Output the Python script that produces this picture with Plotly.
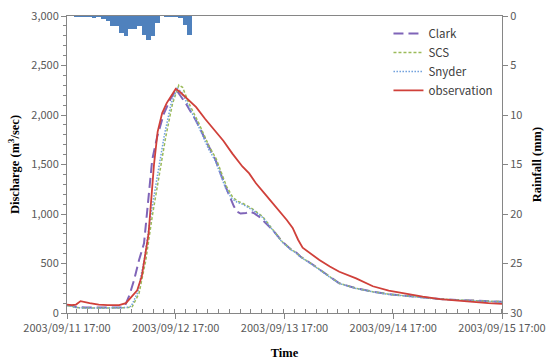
import pandas as pd
import plotly.graph_objects as go

BASE = pd.Timestamp("2003-09-11 17:00")

# Rainfall (hourly, mm), hour offsets from 2003/09/11 17:00
rain_hours = [2, 3, 4, 5, 6, 7, 8, 9, 10, 11, 12, 13, 14, 15, 16, 17, 18, 19, 20, 21, 22, 23, 24, 25, 26, 27]
rain_mm = [0.1, 0.1, 0.1, 0.1, 0.2, 0.1, 0.3, 0.5, 1.0, 1.0, 1.7, 2.0, 1.3, 1.3, 1.0, 1.9, 2.4, 2.0, 0.7, 0.0, 0.1, 0.1, 0.1, 0.2, 0.9, 1.9]

# Observation
obs_hours = [0, 1, 2, 3, 5, 7, 9, 11.5, 13, 14, 15.5, 16.5, 17.3, 18, 18.6, 19.2, 20, 21, 22, 23, 24, 25, 26, 27,
             28.5, 30.5, 32.5, 34.5, 36.5, 38.7, 40.2, 41.7, 43.9, 45, 46.8, 48.5, 49.8, 51, 52, 54, 55.7, 58,
             60.1, 63.8, 67.5, 71, 74.9, 78.5, 82.3, 86, 89.6, 93, 96]
obs_q = [85, 80, 85, 120, 100, 85, 80, 80, 100, 150, 230, 370, 580, 800, 1150, 1500, 1830, 2020, 2120, 2200, 2265, 2230, 2185, 2140,
         2080, 1960, 1850, 1740, 1610, 1480, 1410, 1310, 1190, 1130, 1040, 940, 860, 740, 660, 590, 535, 470,
         417, 350, 270, 225, 192, 165, 141, 125, 114, 100, 92]

# Clark
clark_hours = [0, 1, 2, 4, 8, 12, 12.7, 13.8, 14.8, 15.9, 17, 17.4, 18.1, 18.8, 19.9, 21.4, 22.9, 24.1, 26.2, 28.4, 30.6,
               32.8, 34.7, 35.8, 36.8, 37.5, 38.3, 39.5, 40.3, 41.2, 42.4, 45.4, 47.5, 49.5, 50.6, 51.5, 54.2, 57.9,
               60.1, 63.8, 67.5, 71, 74.9, 78.5, 82.3, 86, 89.6, 93, 96]
clark_q = [80, 75, 60, 55, 55, 55, 64, 182, 333, 535, 704, 900, 1209, 1545, 1781, 2017, 2168, 2255, 2118, 1950, 1747,
           1545, 1310, 1190, 1080, 1025, 1005, 1010, 1025, 1010, 973, 838, 720, 640, 610, 570, 490, 370,
           300, 250, 215, 190, 172, 155, 141, 132, 124, 118, 114]

# SCS
scs_hours = [0, 1, 2, 4, 8, 12, 13.5, 14.4, 15.9, 17.4, 18.8, 20.3, 21.8, 23.3, 24.7, 25.5, 26.9, 29.1, 31.4, 32.9,
             34.0, 35.2, 36.5, 37.6, 38.7, 39.8, 41.0, 43.2, 45.4, 47.5, 49.5, 50.6, 51.5, 54.2, 57.9,
             60.1, 63.8, 67.5, 71, 74.9, 78.5, 82.3, 86, 89.6, 93, 96]
scs_q = [75, 70, 55, 50, 50, 50, 55, 64, 199, 535, 973, 1377, 1781, 2118, 2303, 2280, 2118, 1916, 1680, 1560,
         1430, 1280, 1175, 1130, 1110, 1085, 1050, 973, 838, 720, 640, 610, 570, 490, 370,
         300, 250, 215, 190, 172, 155, 141, 132, 124, 118, 114]

# Snyder
snyder_hours = [0, 1, 2, 4, 8, 12, 13.2, 14.2, 15.6, 17.1, 18.5, 20.0, 21.5, 23.0, 24.3, 25.3, 26.7, 28.9, 31.2, 32.7,
                33.8, 35.0, 36.3, 37.5, 38.7, 39.8, 41.0, 43.2, 45.4, 47.5, 49.5, 50.6, 51.5, 54.2, 57.9,
                60.1, 63.8, 67.5, 71, 74.9, 78.5, 82.3, 86, 89.6, 93, 96]
snyder_q = [75, 70, 55, 50, 50, 50, 55, 70, 210, 550, 990, 1400, 1800, 2120, 2270, 2230, 2100, 1900, 1660, 1540,
            1410, 1260, 1160, 1120, 1100, 1075, 1040, 965, 835, 715, 636, 605, 566, 486, 366,
            298, 248, 213, 188, 170, 153, 139, 130, 122, 116, 112]

x_ticks = ["2003-09-11 17:00", "2003-09-12 17:00", "2003-09-13 17:00", "2003-09-14 17:00", "2003-09-15 17:00"]
x_tick_text = ["2003/09/11 17:00", "2003/09/12 17:00", "2003/09/13 17:00", "2003/09/14 17:00", "2003/09/15 17:00"]


def to_time(hours):
    return BASE + pd.to_timedelta(hours, unit="h")


fig = go.Figure()

fig.add_trace(go.Bar(x=to_time(rain_hours), y=rain_mm, yaxis="y2", name="Rainfall",
                     marker=dict(color="#4F81BD", line=dict(width=0)), width=3600000,
                     showlegend=False))

fig.add_trace(go.Scatter(x=to_time(clark_hours), y=clark_q, mode="lines", name="Clark",
                         line=dict(color="#7F64B8", width=2, dash="10px,5px")))
fig.add_trace(go.Scatter(x=to_time(scs_hours), y=scs_q, mode="lines", name="SCS",
                         line=dict(color="#9BBB59", width=1.5, dash="3px,2px")))
fig.add_trace(go.Scatter(x=to_time(snyder_hours), y=snyder_q, mode="lines", name="Snyder",
                         line=dict(color="#6E9FDC", width=1.5, dash="1.5px,1.5px")))
fig.add_trace(go.Scatter(x=to_time(obs_hours), y=obs_q, mode="lines", name="observation",
                         line=dict(color="#D0403A", width=1.8)))

tick_font = dict(family="Noto Sans CJK KR, Noto Sans, sans-serif", size=11, color="#595959")
title_font = dict(family="Liberation Serif, serif", size=12.5, color="#000000")

fig.update_layout(
    width=548, height=361,
    margin=dict(l=67, r=46, t=16, b=48, autoexpand=False),
    paper_bgcolor="white", plot_bgcolor="white",
    bargap=0,
    xaxis=dict(
        type="date", automargin=False,
        range=[x_ticks[0], x_ticks[-1]],
        tickvals=x_ticks, ticktext=x_tick_text,
        ticks="outside", ticklen=5, tickcolor="#868686",
        showline=True, linecolor="#868686", linewidth=1, mirror=True,
        showgrid=False, zeroline=False,
        tickfont=tick_font,
        minor=dict(dtick=8640000, ticks="inside", ticklen=4, tickcolor="#868686", showgrid=False),
        title=dict(text="<b>Time</b>", font=title_font, standoff=14),
    ),
    yaxis=dict(
        automargin=False,
        range=[0, 3000], dtick=500, tickformat=",d",
        ticks="outside", ticklen=5, tickcolor="#868686",
        showline=True, linecolor="#868686", linewidth=1,
        showgrid=False, zeroline=False,
        tickfont=tick_font,
        minor=dict(dtick=100, ticks="outside", ticklen=3, tickcolor="#868686", showgrid=False),
        title=dict(text="<b>Discharge (m<sup>3</sup>/sec)</b>", font=title_font, standoff=8),
    ),
    yaxis2=dict(
        overlaying="y", side="right", automargin=False,
        range=[30, 0], dtick=5,
        ticks="outside", ticklen=5, tickcolor="#868686",
        showline=True, linecolor="#868686", linewidth=1,
        showgrid=False, zeroline=False,
        tickfont=tick_font,
        title=dict(text="<b>Rainfall (mm)</b>", font=title_font, standoff=10),
    ),
    legend=dict(
        x=0.739, y=0.99, xanchor="left", yanchor="top",
        bgcolor="rgba(0,0,0,0)", borderwidth=0,
        font=dict(family="Noto Sans CJK KR, Noto Sans, sans-serif", size=11.5, color="#404040"),
        tracegroupgap=0, itemwidth=30,
    ),
)

fig.write_html("out.html")
